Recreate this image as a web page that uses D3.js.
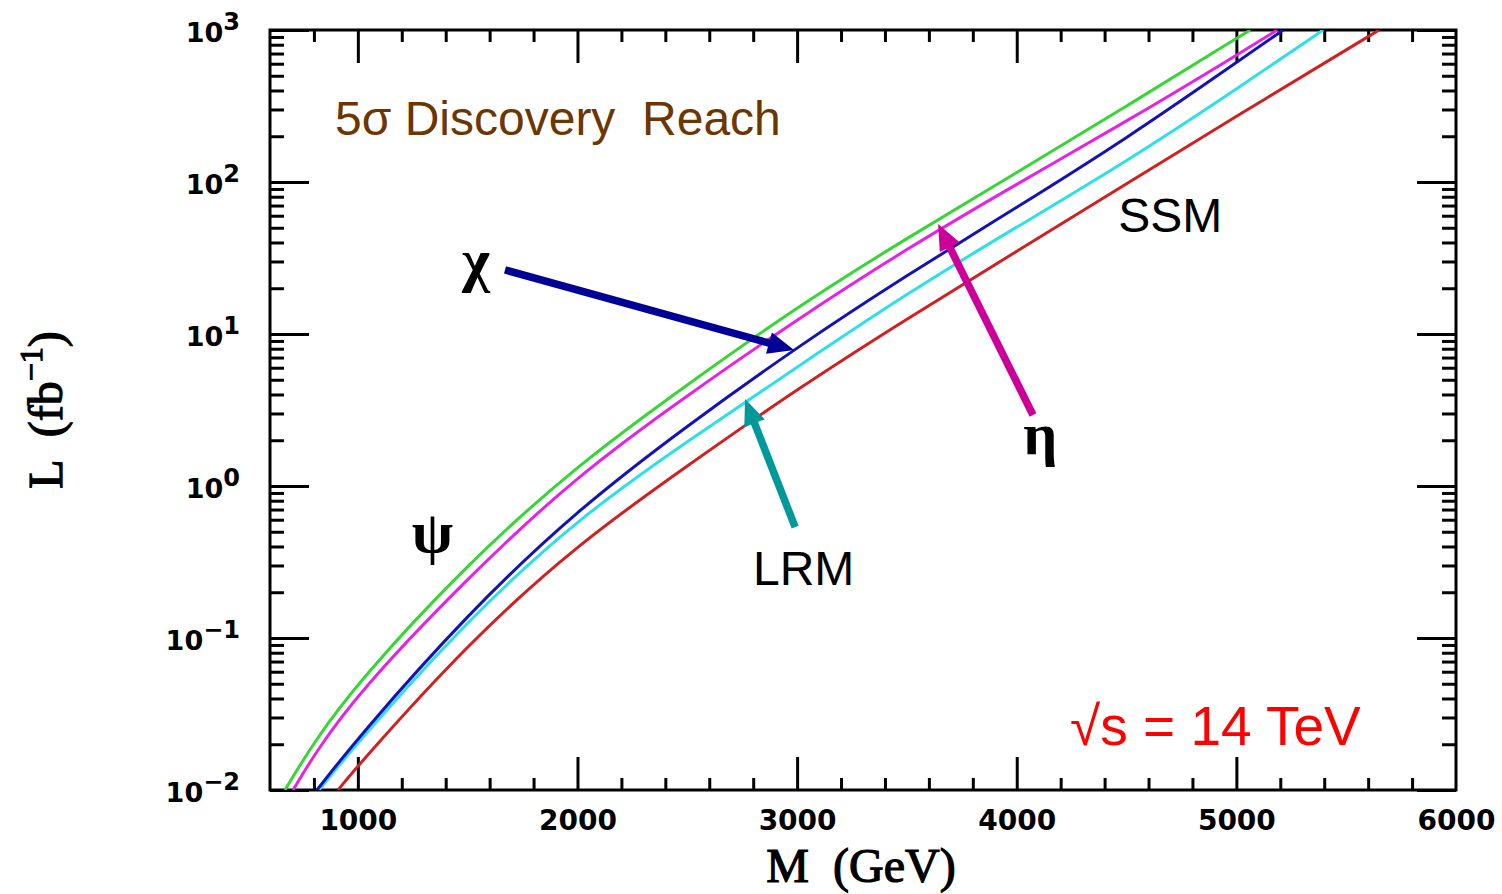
<!DOCTYPE html>
<meta charset="utf-8" />
<html>
<style>
  body { margin: 0; background: #fff; }
  .ticklab { font-family: "DejaVu Sans", sans-serif; font-weight: bold; fill: #000; }
  .axtitle { font-family: "Liberation Serif", "Times New Roman", serif; font-size: 48px; white-space: pre; fill: #000; stroke: #000; stroke-width: 1.2px; }
  .note { font-family: "Liberation Sans", Arial, sans-serif; white-space: pre; }
  .greek { font-family: "Liberation Serif", serif; font-weight: bold; font-size: 60px; }
  .curve { fill: none; stroke-width: 3px; }
</style>
<body>
<svg width="1502" height="894"></svg>
<script src="https://d3js.org/d3.v7.min.js"></script>
<script>

  // 5 sigma discovery reach, [M (GeV), L (fb^-1)]
  var psiReach = [[668, 0.01], [800, 0.0207], [1000, 0.0514], [1500, 0.31], [2000, 1.38], [2500, 4.65],
                  [3000, 15.1], [3500, 42.8], [4000, 115], [4500, 315], [5000, 880], [5063, 1000]];
  var etaReach = [[705, 0.01], [800, 0.017], [1000, 0.0435], [1500, 0.25], [2000, 1.18], [2500, 3.95],
                  [3000, 12.5], [3500, 36.5], [4000, 97], [4500, 250], [5000, 681], [5186, 1000]];
  var chiReach = [[814, 0.01], [1000, 0.0221], [1500, 0.145], [2000, 0.70], [2500, 2.50],
                  [3000, 8.21], [3500, 24.4], [4000, 68], [4500, 193], [5000, 611], [5213, 1000]];
  var lrmReach = [[823, 0.01], [1000, 0.0207], [1500, 0.132], [2000, 0.61], [2500, 1.97],
                  [3000, 6.06], [3500, 18.5], [4000, 50.6], [4500, 136], [5000, 407], [5395, 1000]];
  var ssmReach = [[910, 0.01], [1000, 0.0145], [1500, 0.092], [2000, 0.415], [2500, 1.36],
                  [3000, 4.35], [3500, 12.6], [4000, 35.0], [4500, 97.3], [5000, 271], [5650, 1000]];

  var massTicks = [1000, 2000, 3000, 4000, 5000, 6000];
  var decades = [-2, -1, 0, 1, 2, 3];

  var series = [
    { data: ssmReach, color: "#d02020" },
    { data: lrmReach, color: "#2ee0e6" },
    { data: chiReach, color: "#1414b4" },
    { data: etaReach, color: "#e424e4" },
    { data: psiReach, color: "#36d636" }
  ];

  // labels in data coordinates [M, L]
  var labels = [
    { text: "5σ Discovery  Reach", at: [896, 204], size: 48, color: "#6b3600", cls: "note" },
    { text: "SSM", at: [4462, 46.9], size: 48, color: "#000", cls: "note" },
    { text: "LRM", at: [2799, 0.223], size: 48, color: "#000", cls: "note" },
    { text: "√s = 14 TeV", at: [4243, 0.0198], size: 55, color: "#ff0000", cls: "note" },
    { text: "χ", at: [1474, 22.6], color: "#000", cls: "greek" },
    { text: "ψ", at: [1245, 0.37], color: "#000", cls: "greek" },
    { text: "η", at: [4030, 1.63], color: "#000", cls: "greek" }
  ];

  // arrows from label to curve, [M, L]
  var arrows = [
    { from: [1670, 26.4], to: [2986, 7.85], color: "#000096" },
    { from: [4074, 2.93], to: [3642, 53], color: "#cc0099" },
    { from: [2991, 0.537], to: [2763, 3.73], color: "#009999" }
  ];

  var svg = d3.select("svg"),
    width = +svg.attr("width"),
    height = +svg.attr("height");

  var margin = { top: 30, right: 46, bottom: 104, left: 270 };

  var x = d3.scaleLinear()
    .domain([600, 6000])
    .range([margin.left, width - margin.right]);

  var y = d3.scaleLog()
    .domain([0.01, 1000])
    .range([height - margin.bottom, margin.top]);

  var x0 = x.range()[0], x1 = x.range()[1], y0 = y.range()[0], y1 = y.range()[1];

  var minorMass = d3.range(800, 6000, 200).filter(function (d) { return d % 1000 !== 0; });
  var minorL = [];
  decades.slice(0, -1).forEach(function (e) {
    for (var k = 2; k <= 9; k++) minorL.push(k * Math.pow(10, e));
  });

  function ticks(axis, tx, ty) {
    var g = svg.append("g")
      .attr("transform", "translate(" + tx + "," + ty + ")")
      .call(axis);
    g.select(".domain").remove();
    g.selectAll("line").attr("stroke", "#000").attr("stroke-width", 3);
    return g;
  }

  // x ticks, bottom and top
  var bottom = ticks(d3.axisBottom(x).tickValues(massTicks).tickSize(-33).tickPadding(20).tickFormat(d3.format("d")), 0, y0);
  bottom.selectAll("text")
    .attr("class", "ticklab")
    .attr("font-size", 28)
    .attr("font-family", null);
  bottom.selectAll(".tick").filter(function (d) { return d === 6000; }).select("line").remove();
  ticks(d3.axisBottom(x).tickValues(minorMass).tickSize(-12).tickFormat(""), 0, y0);
  ticks(d3.axisTop(x).tickValues(massTicks.slice(0, -1)).tickSize(-33).tickFormat(""), 0, y1);
  ticks(d3.axisTop(x).tickValues(minorMass).tickSize(-12).tickFormat(""), 0, y1);

  // y ticks, left and right
  var majorL = decades.map(function (e) { return Math.pow(10, e); });
  ticks(d3.axisLeft(y).tickValues(majorL).tickSize(-39).tickFormat(""), x0, 0);
  ticks(d3.axisLeft(y).tickValues(minorL).tickSize(-14).tickFormat(""), x0, 0);
  ticks(d3.axisRight(y).tickValues(majorL).tickSize(-39).tickFormat(""), x1, 0);
  ticks(d3.axisRight(y).tickValues(minorL).tickSize(-14).tickFormat(""), x1, 0);

  // y tick labels 10^n
  decades.forEach(function (e) {
    var t = svg.append("text")
      .attr("class", "ticklab")
      .attr("text-anchor", "end")
      .attr("x", x0 - 30)
      .attr("y", y(Math.pow(10, e)) + 12)
      .attr("font-size", 27);
    t.append("tspan").text("10");
    t.append("tspan")
      .attr("dy", -12)
      .attr("font-size", 24)
      .text(e < 0 ? "\u2212" + (-e) : String(e));
  });

  // frame
  svg.append("rect")
    .attr("x", x0)
    .attr("y", y1)
    .attr("width", x1 - x0)
    .attr("height", y0 - y1)
    .attr("fill", "none")
    .attr("stroke", "#000")
    .attr("stroke-width", 3);

  // curves
  svg.append("clipPath").attr("id", "plot")
    .append("rect")
    .attr("x", x0).attr("y", y1).attr("width", x1 - x0).attr("height", y0 - y1);

  var line = d3.line()
    .x(function (d) { return x(d[0]); })
    .y(function (d) { return y(d[1]); })
    .curve(d3.curveBasis);

  svg.append("g")
    .attr("clip-path", "url(#plot)")
    .selectAll("path")
    .data(series)
    .enter()
    .append("path")
    .attr("class", "curve")
    .attr("stroke", function (d) { return d.color; })
    .attr("d", function (d) { return line(d.data); });

  // arrows
  arrows.forEach(function (a) {
    var ax = x(a.from[0]), ay = y(a.from[1]),
      bx = x(a.to[0]), by = y(a.to[1]);
    var dx = bx - ax, dy = by - ay, len = Math.sqrt(dx * dx + dy * dy);
    var ux = dx / len, uy = dy / len;
    var headLen = 26, headHalf = 11;
    var hx = bx - ux * headLen, hy = by - uy * headLen;
    svg.append("line")
      .attr("x1", ax).attr("y1", ay)
      .attr("x2", hx + ux * 2).attr("y2", hy + uy * 2)
      .attr("stroke", a.color)
      .attr("stroke-width", 7.5);
    svg.append("polygon")
      .attr("points", [
        [bx, by],
        [hx - uy * headHalf, hy + ux * headHalf],
        [hx + uy * headHalf, hy - ux * headHalf]
      ].map(function (p) { return p.join(","); }).join(" "))
      .attr("fill", a.color);
  });

  // text labels
  labels.forEach(function (d) {
    var t = svg.append("text")
      .attr("class", d.cls)
      .attr("x", x(d.at[0]))
      .attr("y", y(d.at[1]))
      .attr("fill", d.color)
      .text(d.text);
    if (d.size) t.attr("font-size", d.size);
  });

  // axis titles
  svg.append("text")
    .attr("class", "axtitle")
    .attr("text-anchor", "middle")
    .attr("x", (x0 + x1) / 2 - 2)
    .attr("y", 882)
    .text("M  (GeV)");

  var yt = svg.append("text")
    .attr("class", "axtitle")
    .attr("text-anchor", "middle")
    .attr("transform", "translate(62," + ((y0 + y1) / 2) + ") rotate(-90)");
  yt.append("tspan").text("L  (fb");
  yt.append("tspan").attr("dy", -20).attr("font-size", 32).text("\u22121");
  yt.append("tspan").attr("dy", 20).text(")");

</script>
</body>
</html>
